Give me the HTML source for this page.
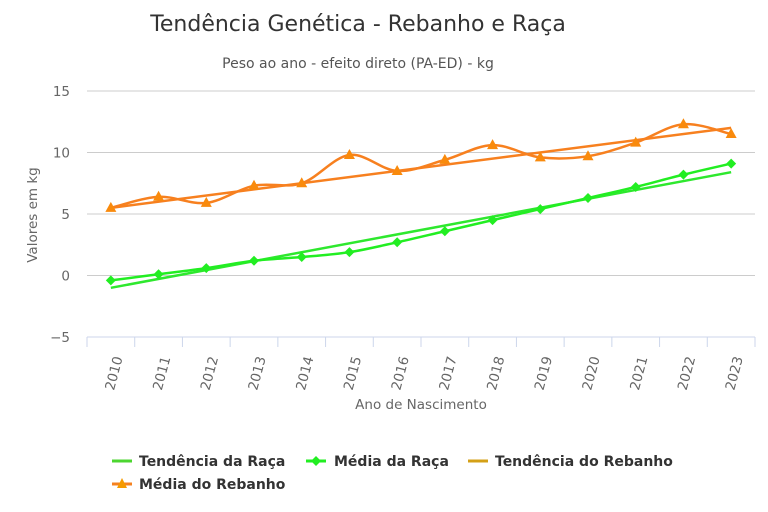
<!DOCTYPE html>
<html><head><meta charset="utf-8"><style>
body{margin:0;background:#fff;}
svg{display:block;font-family:"DejaVu Sans","Liberation Sans",sans-serif;}
</style></head><body>
<svg id="chart" width="768" height="512">
<text x="358" y="31" text-anchor="middle" font-size="22" fill="#333">Tendência Genética - Rebanho e Raça</text>
<text x="358" y="68" text-anchor="middle" font-size="14" fill="#555">Peso ao ano - efeito direto (PA-ED) - kg</text>
<text transform="translate(37,215) rotate(-90)" text-anchor="middle" font-size="13.5" fill="#666">Valores em kg</text>
<text x="421" y="409" text-anchor="middle" font-size="13.5" fill="#666">Ano de Nascimento</text>
<g id="grid"></g><g id="series"></g>
<g font-size="14" font-weight="bold" fill="#333">
<g><line x1="112" y1="461" x2="132" y2="461" stroke="#4cd630" stroke-width="3"/><text x="139" y="466">Tendência da Raça</text></g>
<g><line x1="306" y1="461" x2="326" y2="461" stroke="#22ee22" stroke-width="3"/><path d="M316,456 L321,461 L316,466 L311,461Z" fill="#22ee22"/><text x="334" y="466">Média da Raça</text></g>
<g><line x1="468" y1="461" x2="488" y2="461" stroke="#d4a017" stroke-width="3"/><text x="495" y="466">Tendência do Rebanho</text></g>
<g><line x1="112" y1="484" x2="132" y2="484" stroke="#f58220" stroke-width="3"/><path d="M122,478 L127,488 L117,488Z" fill="#f59a00"/><text x="139" y="489">Média do Rebanho</text></g>
</g>
</svg>
<script>
const categories=["2010","2011","2012","2013","2014","2015","2016","2017","2018","2019","2020","2021","2022","2023"];
const mediaRebanho=[5.5,6.4,5.9,7.3,7.5,9.8,8.5,9.4,10.6,9.6,9.7,10.8,12.3,11.5];
const tendRebanho=[5.5,12.0];
const mediaRaca=[-0.4,0.1,0.6,1.2,1.5,1.9,2.7,3.6,4.5,5.4,6.3,7.2,8.2,9.1];
const tendRaca=[-1.0,8.4];
const yTicks=[-5,0,5,10,15];
const L=87,R=755,T=91,B=337,ymin=-5,ymax=15;
const NS="http://www.w3.org/2000/svg";
const bw=(R-L)/categories.length;
const X=i=>L+bw*(i+0.5);
const Y=v=>B-(v-ymin)/(ymax-ymin)*(B-T);
function mk(tag,attrs,parent){const e=document.createElementNS(NS,tag);for(const k in attrs)e.setAttribute(k,attrs[k]);parent.appendChild(e);return e;}
const grid=document.getElementById('grid'),ser=document.getElementById('series');
yTicks.forEach(t=>{
 if(t>ymin){const g=mk('line',{x1:L,x2:R,y1:Y(t),y2:Y(t),stroke:'#ccc','stroke-width':1},grid);
 
 }
 const tx=mk('text',{x:70,y:Y(t)+5,'text-anchor':'end','font-size':13.5,fill:'#666'},grid);tx.textContent=t===-5?'−5':t;
 
 
});
const ax=mk('line',{x1:L,x2:R,y1:B,y2:B,stroke:'#ccd6eb','stroke-width':1},grid);


for(let i=0;i<=categories.length;i++){const tk=mk('line',{x1:L+bw*i,x2:L+bw*i,y1:B,y2:B+10,stroke:'#ccd6eb'},grid);

}
categories.forEach((c,i)=>{const t=mk('text',{transform:`translate(${X(i)+3},${B+54}) rotate(-75)`,'font-size':13.5,fill:'#666'},grid);t.textContent=c;

});
function smooth(pts){let d=`M${pts[0][0]},${pts[0][1]}`;for(let i=0;i<pts.length-1;i++){const p0=pts[i-1]||pts[i],p1=pts[i],p2=pts[i+1],p3=pts[i+2]||p2;const k=6;d+=` C${p1[0]+(p2[0]-p0[0])/k},${p1[1]+(p2[1]-p0[1])/k} ${p2[0]-(p3[0]-p1[0])/k},${p2[1]-(p3[1]-p1[1])/k} ${p2[0]},${p2[1]}`;}return d;}
const n=categories.length-1;
let l=mk('line',{x1:X(0),y1:Y(tendRaca[0]),x2:X(n),y2:Y(tendRaca[1]),stroke:'#2ee82e','stroke-width':2.5},ser);


let p=mk('path',{d:smooth(mediaRaca.map((v,i)=>[X(i),Y(v)])),fill:'none',stroke:'#22ee22','stroke-width':2.5},ser);


mediaRaca.forEach((v,i)=>{const m=mk('path',{d:`M${X(i)},${Y(v)-5} L${X(i)+5},${Y(v)} L${X(i)},${Y(v)+5} L${X(i)-5},${Y(v)}Z`,fill:'#22ee22'},ser);

});
l=mk('line',{x1:X(0),y1:Y(tendRebanho[0]),x2:X(n),y2:Y(tendRebanho[1]),stroke:'#f7801f','stroke-width':2.5},ser);


p=mk('path',{d:smooth(mediaRebanho.map((v,i)=>[X(i),Y(v)])),fill:'none',stroke:'#f7801f','stroke-width':2.5},ser);


mediaRebanho.forEach((v,i)=>{const m=mk('path',{d:`M${X(i)},${Y(v)-6} L${X(i)+5.5},${Y(v)+4} L${X(i)-5.5},${Y(v)+4}Z`,fill:'#f98a0c'},ser);

});
</script>
</body></html>
